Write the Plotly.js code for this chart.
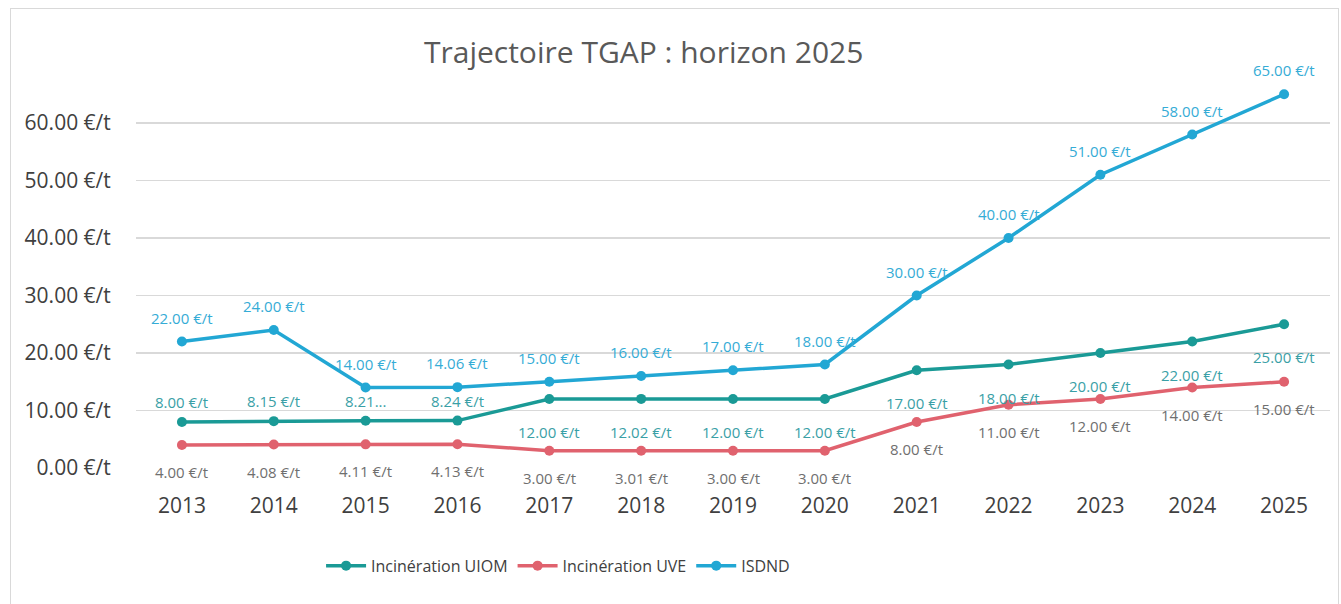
<!DOCTYPE html>
<html>
<head>
<meta charset="utf-8">
<script src="https://cdn.plot.ly/plotly-3.0.1.min.js"></script>
<style>
  html, body { margin: 0; padding: 0; background: #fff; }
  #wrap { position: relative; width: 1341px; height: 604px; }
  #chart { width: 1341px; height: 604px; }
  #frame { position: absolute; left: 10px; top: 8px; width: 1327px; height: 600px; border: 1px solid #d9d9d9; pointer-events: none; }
</style>
</head>
<body>
<div id="wrap"><div id="chart"></div><div id="frame"></div></div>
<script>
// ---- data ----
const years = ['2013','2014','2015','2016','2017','2018','2019','2020','2021','2022','2023','2024','2025'];
const uiom  = [8.00, 8.15, 8.21, 8.24, 12.00, 12.02, 12.00, 12.00, 17.00, 18.00, 20.00, 22.00, 25.00];
const uve   = [4.00, 4.08, 4.11, 4.13, 3.00, 3.01, 3.00, 3.00, 8.00, 11.00, 12.00, 14.00, 15.00];
const isdnd = [22.00, 24.00, 14.00, 14.06, 15.00, 16.00, 17.00, 18.00, 30.00, 40.00, 51.00, 58.00, 65.00];
const seriesNames = ['Incinération UIOM', 'Incinération UVE', 'ISDND'];
const yTickVals = [0, 10, 20, 30, 40, 50, 60];
const yTickText = yTickVals.map(v => v.toFixed(2) + ' €/t');
const uiomLabels = uiom.map((v, i) => i === 2 ? '8.21...' : v.toFixed(2) + ' €/t');
const uveLabels = uve.map(v => v.toFixed(2) + ' €/t');
const isdndLabels = isdnd.map(v => v.toFixed(2) + ' €/t');

// ---- styles ----
const cUIOM = '#1a9a96', cUVE = '#e0626e', cISDND = '#22a7d4';
const font = '"Open Sans", "DejaVu Sans", sans-serif';

function trace(name, y, color) {
  return {
    type: 'scatter', mode: 'lines+markers', name: name,
    x: years, y: y,
    line: { color: color, width: 3.5 },
    marker: { color: color, size: 10 },
    cliponaxis: false
  };
}

const data = [
  trace(seriesNames[0], uiom, cUIOM),
  trace(seriesNames[1], uve, cUVE),
  trace(seriesNames[2], isdnd, cISDND)
];

const annotations = [];
function addLabels(vals, labels, color, shiftFn) {
  vals.forEach((v, i) => {
    annotations.push({
      x: i, y: v, text: labels[i], showarrow: false,
      yshift: shiftFn(i), font: { family: font, size: 15, color: color }
    });
  });
}
addLabels(isdnd, isdndLabels, '#35acd6', i => 24);
addLabels(uiom, uiomLabels, '#3a9fa6', i => (i < 4 ? 20 : -33));
addLabels(uve, uveLabels, '#6f6f6f', i => -27);

const layout = {
  width: 1341, height: 604,
  paper_bgcolor: '#ffffff', plot_bgcolor: '#ffffff',
  margin: { l: 136, r: 11, t: 77, b: 136 },
  font: { family: font, color: '#595959' },
  title: {
    text: 'Trajectoire TGAP : horizon 2025',
    font: { family: font, size: 30, color: '#595959' },
    x: 0.48, xref: 'container', xanchor: 'center',
    y: 1 - 52 / 604, yref: 'container', yanchor: 'middle'
  },
  xaxis: {
    type: 'category',
    range: [-0.5, years.length - 0.5], autorange: false,
    showgrid: false, zeroline: false, showline: false,
    ticks: 'outside', ticklen: 19, tickcolor: 'rgba(0,0,0,0)',
    tickfont: { family: font, size: 21, color: '#404040' },
    fixedrange: true
  },
  yaxis: {
    range: [0, 68], autorange: false,
    tickmode: 'array', tickvals: yTickVals, ticktext: yTickText,
    showgrid: true, gridcolor: '#d9d9d9', gridwidth: 1.5,
    zeroline: false, showline: false,
    ticks: 'outside', ticklen: 20, tickcolor: 'rgba(0,0,0,0)',
    tickfont: { family: font, size: 21, color: '#404040' },
    fixedrange: true
  },
  showlegend: true,
  legend: {
    orientation: 'h', x: 0.155, xanchor: 'left',
    y: -0.25, yanchor: 'middle',
    font: { family: font, size: 16, color: '#404040' },
    itemwidth: 40
  },
  annotations: annotations
};

Plotly.newPlot('chart', data, layout, { displayModeBar: false, staticPlot: true });
</script>
</body>
</html>
